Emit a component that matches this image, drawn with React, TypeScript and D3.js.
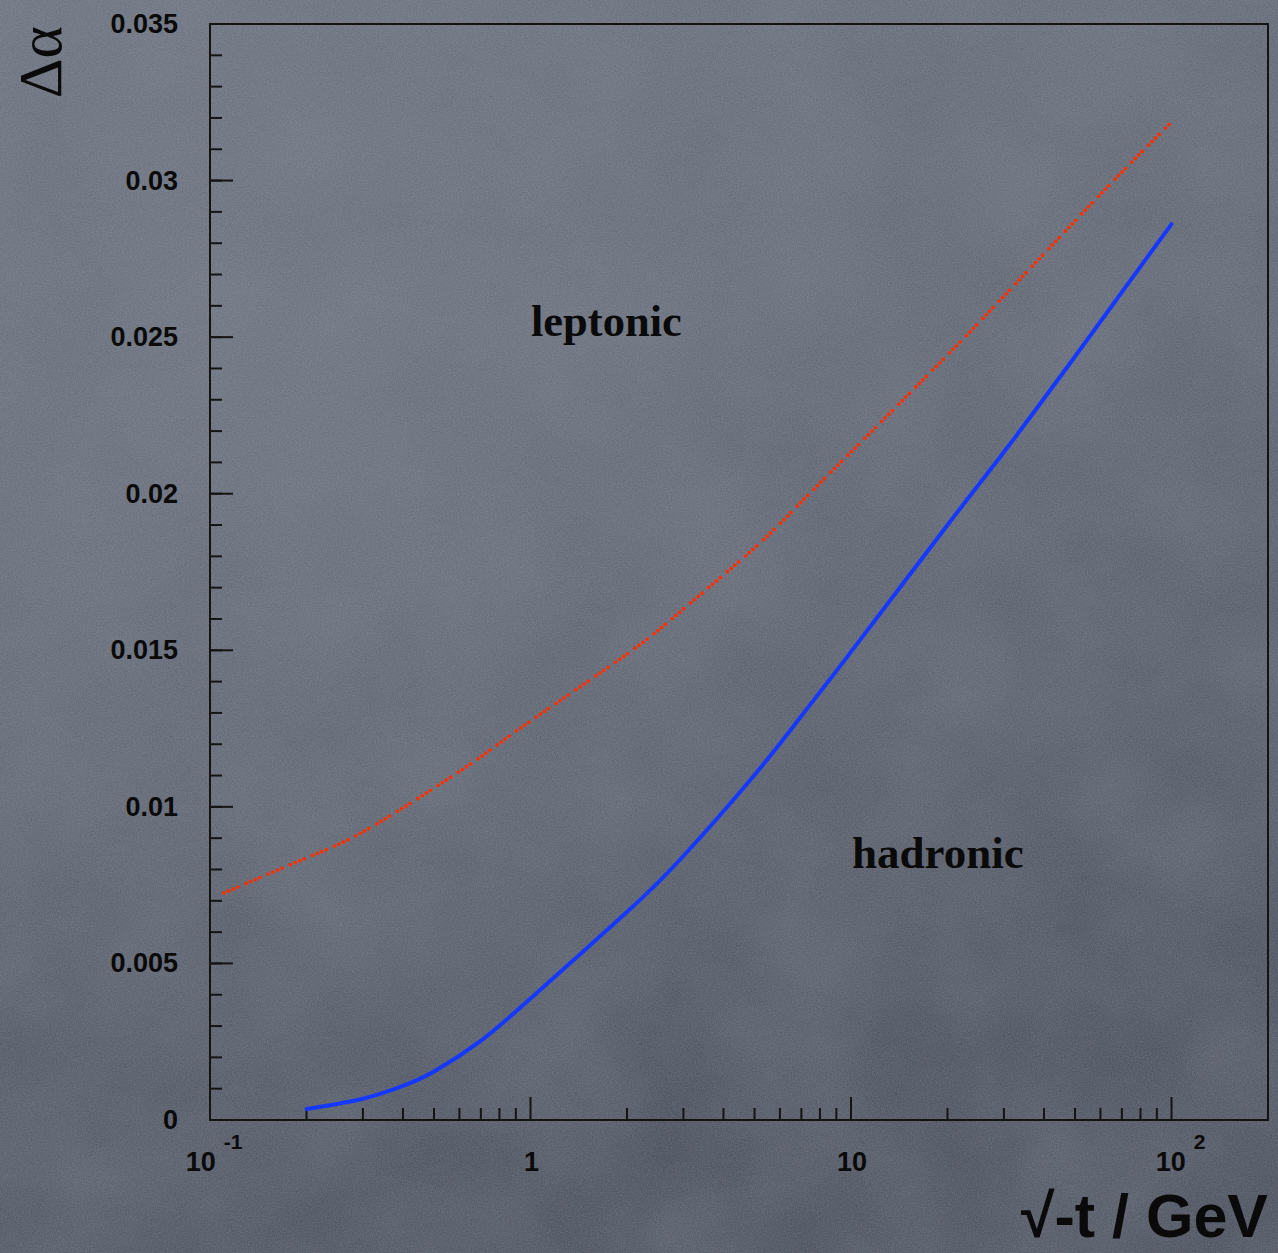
import React from "react";
import * as d3 from "d3";

// values
const hadronicT = [0.2, 0.3, 0.4, 0.5, 0.7, 1, 2, 3, 5, 7, 10, 20, 30, 50, 70, 100];
const hadronic = [0.00035, 0.00068, 0.00109, 0.00155, 0.00253, 0.00388, 0.00664, 0.00843, 0.01102, 0.0129, 0.01495, 0.019, 0.02133, 0.02438, 0.02644, 0.02861];
const leptonicT = [0.1106, 0.2, 0.3, 0.5, 0.7, 1, 2, 3, 5, 7, 10, 20, 30, 50, 70, 100];
const leptonic = [0.00725, 0.00837, 0.0092, 0.0106, 0.0116, 0.01274, 0.01488, 0.01632, 0.01827, 0.01974, 0.02133, 0.02443, 0.02631, 0.02871, 0.03027, 0.03187];
const yTicks = [0, 0.005, 0.01, 0.015, 0.02, 0.025, 0.03, 0.035];
const yTickLabels = ["0", "0.005", "0.01", "0.015", "0.02", "0.025", "0.03", "0.035"];
const xTicks = [0.1, 1, 10, 100];
const xTickBase = ["10", "1", "10", "10"];
const xTickExp = ["-1", "", "", "2"];

const W = 1278;
const H = 1253;
const left = 210, right = 1268, top = 24, bottom = 1120;

export default function App() {
  const x = d3.scaleLog().domain([0.1, 200]).range([left, right]);
  const y = d3.scaleLinear().domain([0, 0.035]).range([bottom, top]);

  const line = d3
    .line<[number, number]>()
    .x((d) => x(d[0]))
    .y((d) => y(d[1]))
    .curve(d3.curveNatural);

  const hadPts = hadronicT.map((t, i) => [t, hadronic[i]] as [number, number]);
  const lepPts = leptonicT.map((t, i) => [t, leptonic[i]] as [number, number]);

  // minor ticks
  const yMinor = d3.range(0, 35.5, 1).map((v) => v / 1000);
  const xMinor: number[] = [];
  [0.1, 1, 10].forEach((dec) => {
    for (let k = 2; k <= 9; k++) xMinor.push(dec * k);
  });

  const axisColor = "#141414";
  const sans = "'Liberation Sans', Arial, Helvetica, sans-serif";
  const serif = "'Liberation Serif', 'Times New Roman', serif";

  return (
    <svg width={W} height={H} style={{ position: "absolute", left: 0, top: 0 }}>
      <defs>
        <linearGradient id="bg" x1="0" y1="0" x2="0.3" y2="1">
          <stop offset="0" stopColor="#646b78" />
          <stop offset="0.5" stopColor="#585f6c" />
          <stop offset="1" stopColor="#454b57" />
        </linearGradient>
        <radialGradient id="patch" cx="0.25" cy="0.35" r="0.5">
          <stop offset="0" stopColor="#767d89" stopOpacity="0.3" />
          <stop offset="1" stopColor="#767d89" stopOpacity="0" />
        </radialGradient>
        <filter id="noise" x="0" y="0" width="100%" height="100%">
          <feTurbulence type="fractalNoise" baseFrequency="0.8" numOctaves="2" seed="3" />
          <feColorMatrix type="matrix" values="0 0 0 0 0.8  0 0 0 0 0.82  0 0 0 0 0.86  0 0 0 0.22 0" />
        </filter>
        <filter id="cloud" x="0" y="0" width="100%" height="100%">
          <feTurbulence type="fractalNoise" baseFrequency="0.008" numOctaves="4" seed="11" />
          <feColorMatrix type="matrix" values="0 0 0 0 0.18  0 0 0 0 0.2  0 0 0 0 0.25  0 0 0 0.45 -0.08" />
        </filter>
      </defs>
      <rect width={W} height={H} fill="url(#bg)" />
      <rect width={W} height={H} fill="url(#patch)" />
      <rect width={W} height={H} filter="url(#cloud)" />
      <rect width={W} height={H} filter="url(#noise)" />

      {/* frame */}
      <path
        d={`M${left},${bottom}V${top}H${right}V${bottom}Z`}
        fill="none"
        stroke={axisColor}
        strokeWidth={2}
      />

      {/* y ticks */}
      {yMinor.map((v, i) => (
        <line key={"ym" + i} x1={left} x2={left + 12} y1={y(v)} y2={y(v)} stroke={axisColor} strokeWidth={2} />
      ))}
      {yTicks.map((v, i) => (
        <g key={"y" + i}>
          <line x1={left} x2={left + 23} y1={y(v)} y2={y(v)} stroke={axisColor} strokeWidth={2} />
          <text
            x={left - 32}
            y={y(v) + 9}
            textAnchor="end"
            fontFamily={sans}
            fontWeight="bold"
            fontSize={27}
            fill="#0a0a0a"
          >
            {yTickLabels[i]}
          </text>
        </g>
      ))}

      {/* x ticks */}
      {xMinor.map((v, i) => (
        <line key={"xm" + i} x1={x(v)} x2={x(v)} y1={bottom} y2={bottom - 12} stroke={axisColor} strokeWidth={2} />
      ))}
      {xTicks.map((v, i) => (
        <g key={"x" + i}>
          <line x1={x(v)} x2={x(v)} y1={bottom} y2={bottom - 23} stroke={axisColor} strokeWidth={2} />
          <text
            x={x(v) + (xTickExp[i] ? (v > 1 ? 9 : 4) : 1)}
            y={bottom + 51}
            textAnchor="middle"
            fontFamily={sans}
            fontWeight="bold"
            fontSize={27}
            fill="#0a0a0a"
          >
            {xTickBase[i]}
            {xTickExp[i] && (
              <tspan dx={8} dy={-22} fontSize={21}>
                {xTickExp[i]}
              </tspan>
            )}
          </text>
        </g>
      ))}

      {/* curves */}
      <path
        d={line(lepPts) || ""}
        fill="none"
        stroke="#ff3000"
        strokeWidth={3.8}
        strokeLinecap="round"
        strokeDasharray="0 5 0 5 0 5 0 9"
      />
      <path d={line(hadPts) || ""} fill="none" stroke="#1538ff" strokeWidth={4} strokeLinecap="round" />

      {/* labels */}
      <text x={531} y={336} fontFamily={serif} fontWeight="bold" fontSize={44.5} fill="#0a0a0a">
        leptonic
      </text>
      <text x={852} y={868} fontFamily={serif} fontWeight="bold" fontSize={45} fill="#0a0a0a">
        hadronic
      </text>

      <text
        x={right}
        y={1237}
        textAnchor="end"
        fontFamily={sans}
        fontWeight="bold"
        fontSize={61}
        fill="#0a0a0a"
      >
        √-t / GeV
      </text>
      <text
        transform="translate(61,26) rotate(-90)"
        textAnchor="end"
        fontFamily={serif}
        fontSize={62}
        fill="#0a0a0a"
      >
        Δα
      </text>
    </svg>
  );
}
